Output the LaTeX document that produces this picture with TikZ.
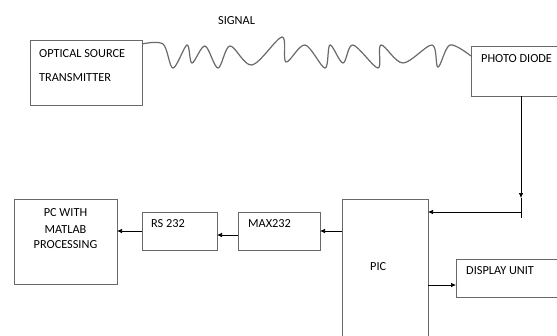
\documentclass[tikz,border=0pt]{standalone}
\usepackage{fontspec}
\setmainfont{Carlito}
\usetikzlibrary{arrows.meta}
\definecolor{boxgray}{RGB}{105,105,105}
\tikzset{
  block/.style={draw=boxgray, line width=0.8pt, anchor=north west, inner sep=0pt, outer sep=0pt},
  lbl/.style={anchor=base west, inner sep=0pt, text=black, font=\fontsize{12.3}{14}\selectfont},
  conn/.style={line width=0.7pt, -{Latex[length=5pt,width=4.5pt]}},
}
\begin{document}
\begin{tikzpicture}[x=1pt,y=-1pt]
  \clip (0,0) rectangle (557,335);
  % transmitter side
  \node[block, minimum width=112pt, minimum height=65pt] (src) at (30,40) {};
  \node[lbl] (srcA) at (39,57) {OPTICAL SOURCE};
  \node[lbl] (srcB) at (39,81) {TRANSMITTER};
  \node[lbl] (sig) at (218,24) {SIGNAL};
  % receiver side
  \node[block, minimum width=100pt, minimum height=50pt] (pd) at (471,46) {};
  \node[lbl] (pdA) at (481,62) {PHOTO DIODE};
  % signal wave
  \coordinate (w0) at ([yshift=-4pt]src.north east);
  \coordinate (w1) at ([yshift=-10pt]pd.north west);
  \draw[boxgray, line width=1.2pt] plot[smooth, tension=0.55] coordinates {(w0) (163,44) (173,68) (187,45) (192,63) (205,46)
    (218,68) (230,46) (252,65) (282,37) (286,62) (305,45) (325,68) (330,45) (343,63) (353,45)
    (378,68) (381,45) (403,63) (432,45) (438,67) (450,45) (w1)};
  % processing chain
  \node[block, minimum width=86pt, minimum height=150pt] (pic) at (342,199) {};
  \node[lbl] (picA) at (370,270) {PIC};
  \node[block, minimum width=110pt, minimum height=38pt] (disp) at (456,259) {};
  \node[lbl] (dispA) at (466,274) {DISPLAY UNIT};
  \node[block, minimum width=82pt, minimum height=38pt] (max) at (238,212) {};
  \node[lbl] (maxA) at (248,227) {MAX232};
  \node[block, minimum width=75pt, minimum height=38pt] (rs) at (142,212) {};
  \node[lbl] (rsA) at (151,227) {RS 232};
  \node[block, minimum width=103pt, minimum height=85pt] (pc) at (14,199) {};
  \node[lbl, anchor=base, align=center] (pcA) at (65.5,216) {PC WITH};
  \node[lbl, anchor=base, align=center] (pcB) at (65.5,233) {MATLAB};
  \node[lbl, anchor=base, align=center] (pcC) at (65.5,248) {PROCESSING};
  % connectors
  \coordinate (j) at (521,212);
  \draw[conn] (pd.south -| j) -- ([yshift=14pt]j);
  \draw[line width=0.7pt] ([yshift=14pt]j) -- ([yshift=-6pt]j);
  \draw[conn] (j) -- (pic.east |- j);
  \draw[conn] (pic.west |- 0,231) -- (max.east |- 0,231);
  \draw[conn] (max.west |- 0,235) -- (rs.east |- 0,235);
  \draw[conn] (rs.west |- 0,231) -- (pc.east |- 0,231);
  \draw[conn] (pic.east |- 0,285) -- (disp.west |- 0,285);
\end{tikzpicture}
\end{document}
